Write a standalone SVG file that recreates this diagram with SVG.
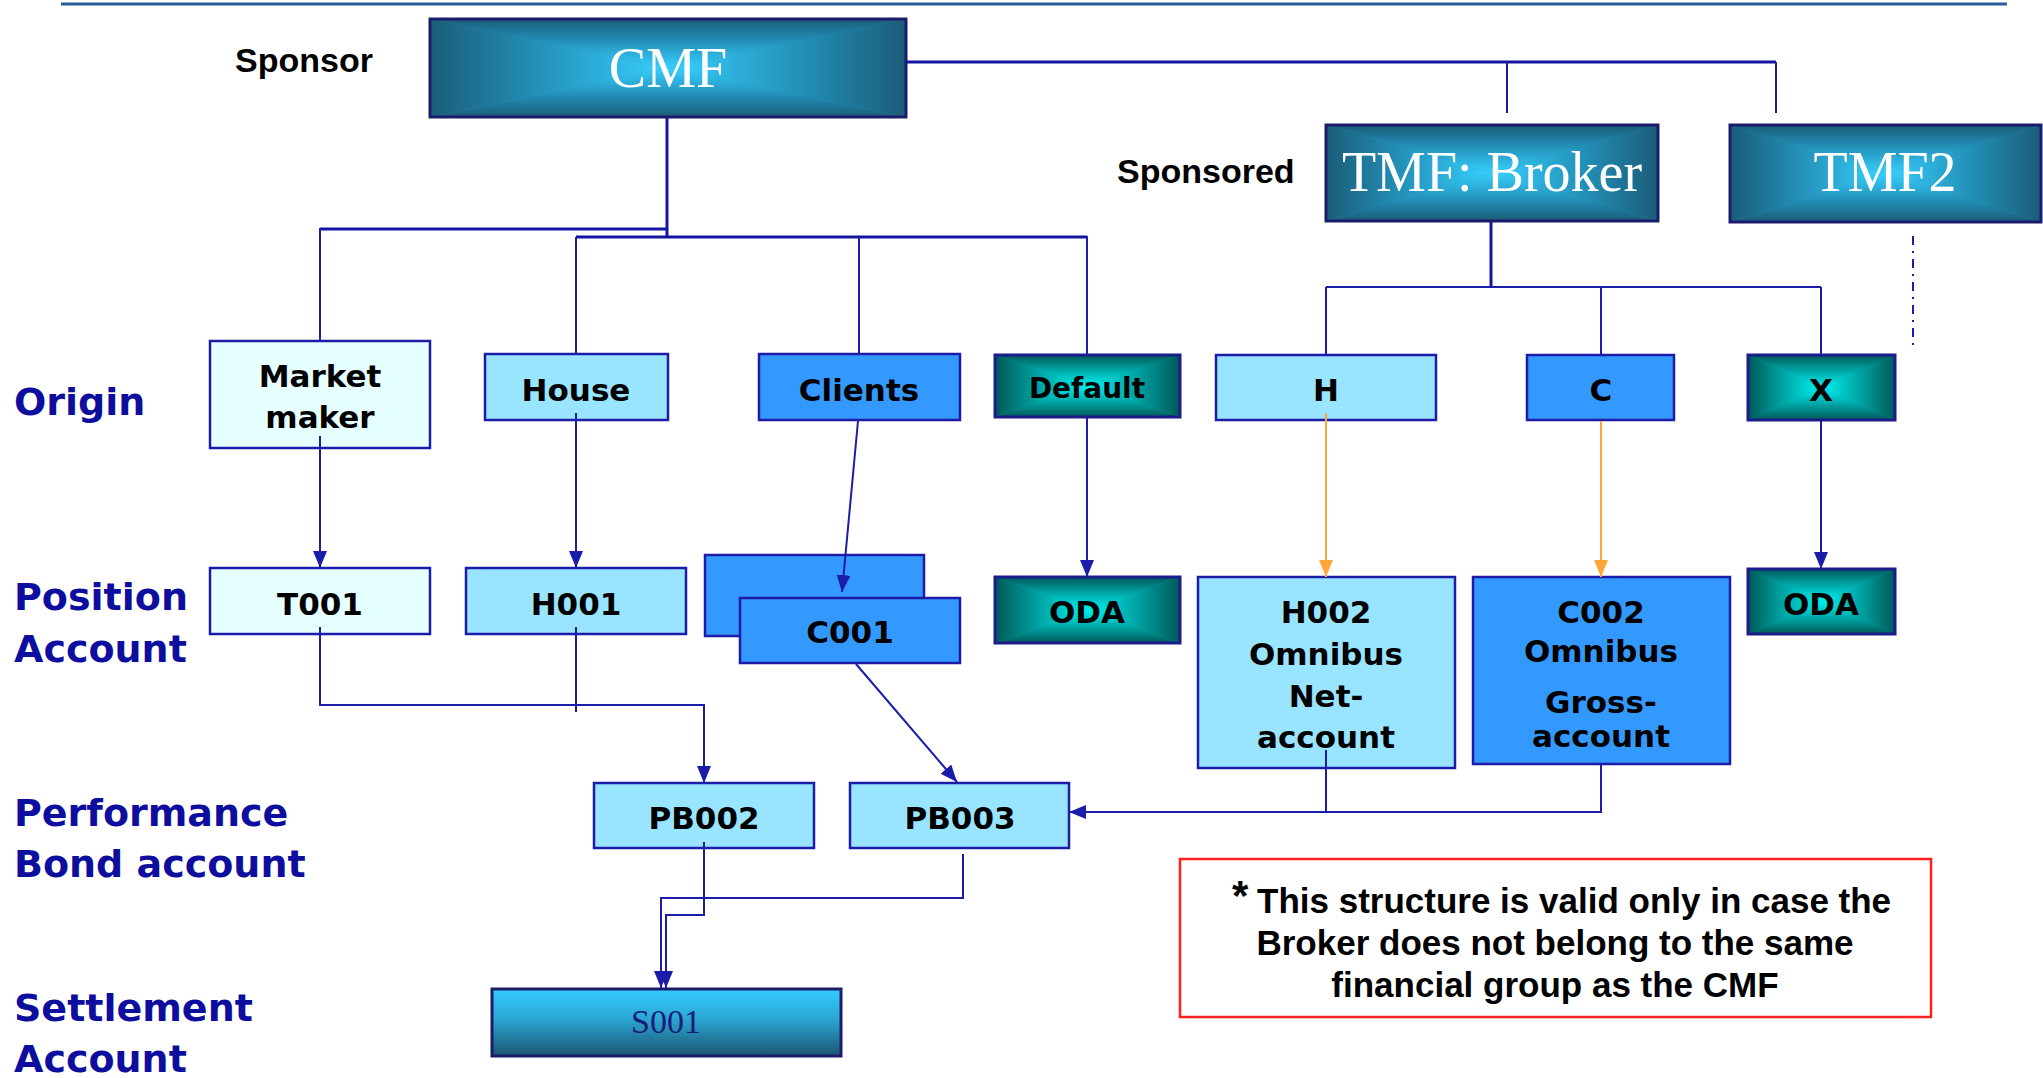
<svg xmlns="http://www.w3.org/2000/svg" width="2043" height="1078" viewBox="0 0 2043 1078">
<defs>
<style>
.lbl{font-family:"DejaVu Sans",Verdana,sans-serif;font-weight:bold;font-size:38px;fill:#0d0d9e}
.bt{font-family:"DejaVu Sans",Verdana,sans-serif;font-weight:bold;font-size:31px;fill:#000;text-anchor:middle}
.hd{font-family:"Liberation Sans",Arial,sans-serif;font-weight:bold;font-size:34px;fill:#000}
.srf{font-family:"Liberation Serif","Times New Roman",serif;font-size:56px;fill:#fff;text-anchor:middle}
.note{font-family:"Liberation Sans",Arial,sans-serif;font-weight:bold;font-size:35px;fill:#000}
.bx{stroke:#1c1ca8;stroke-width:2.5}
.dk{fill:none;stroke:#1c1c6c;stroke-width:3}
.c1{fill:#e6ffff}.c2{fill:#99e5ff}.c3{fill:#3399ff}
.cn{fill:none;stroke:#1c1caa;stroke-width:2}
.cw{fill:none;stroke:#1414a0;stroke-width:3}
.or{fill:none;stroke:#ffa63a;stroke-width:2}
</style>
<linearGradient id="bT" x1="0" y1="0" x2="0" y2="1"><stop offset="0" stop-color="#1a5c78"/><stop offset="0.45" stop-color="#2390b8"/><stop offset="1" stop-color="#38d0ff"/></linearGradient>
<linearGradient id="bB" x1="0" y1="1" x2="0" y2="0"><stop offset="0" stop-color="#1a5c78"/><stop offset="0.45" stop-color="#2390b8"/><stop offset="1" stop-color="#38d0ff"/></linearGradient>
<linearGradient id="bL" x1="0" y1="0" x2="1" y2="0"><stop offset="0" stop-color="#1a5c78"/><stop offset="0.45" stop-color="#2390b8"/><stop offset="1" stop-color="#38d0ff"/></linearGradient>
<linearGradient id="bR" x1="1" y1="0" x2="0" y2="0"><stop offset="0" stop-color="#1a5c78"/><stop offset="0.45" stop-color="#2390b8"/><stop offset="1" stop-color="#38d0ff"/></linearGradient>
<linearGradient id="tT" x1="0" y1="0" x2="0" y2="1"><stop offset="0" stop-color="#005858"/><stop offset="0.45" stop-color="#00a0a0"/><stop offset="1" stop-color="#00f2f2"/></linearGradient>
<linearGradient id="tB" x1="0" y1="1" x2="0" y2="0"><stop offset="0" stop-color="#005858"/><stop offset="0.45" stop-color="#00a0a0"/><stop offset="1" stop-color="#00f2f2"/></linearGradient>
<linearGradient id="tL" x1="0" y1="0" x2="1" y2="0"><stop offset="0" stop-color="#005858"/><stop offset="0.45" stop-color="#00a0a0"/><stop offset="1" stop-color="#00f2f2"/></linearGradient>
<linearGradient id="tR" x1="1" y1="0" x2="0" y2="0"><stop offset="0" stop-color="#005858"/><stop offset="0.45" stop-color="#00a0a0"/><stop offset="1" stop-color="#00f2f2"/></linearGradient>
<linearGradient id="sG" x1="0" y1="0" x2="0" y2="1"><stop offset="0" stop-color="#33ccff"/><stop offset="0.45" stop-color="#2aa6d2"/><stop offset="1" stop-color="#1b5570"/></linearGradient>
<linearGradient id="botL" x1="0" y1="0" x2="1" y2="0"><stop offset="0" stop-color="#1d4f7a"/><stop offset="1" stop-color="#0e2a5a"/></linearGradient>
<symbol id="gB" viewBox="0 0 100 100" preserveAspectRatio="none">
<rect width="100" height="100" fill="#2390b8"/>
<polygon points="0,0 100,0 50,50" fill="url(#bT)"/>
<polygon points="0,100 100,100 50,50" fill="url(#bB)"/>
<polygon points="0,0 0,100 50,50" fill="url(#bL)"/>
<polygon points="100,0 100,100 50,50" fill="url(#bR)"/>
</symbol>
<symbol id="gT" viewBox="0 0 100 100" preserveAspectRatio="none">
<rect width="100" height="100" fill="#00a0a0"/>
<polygon points="0,0 100,0 50,50" fill="url(#tT)"/>
<polygon points="0,100 100,100 50,50" fill="url(#tB)"/>
<polygon points="0,0 0,100 50,50" fill="url(#tL)"/>
<polygon points="100,0 100,100 50,50" fill="url(#tR)"/>
</symbol>
<marker id="ab" markerUnits="userSpaceOnUse" markerWidth="18" markerHeight="16" refX="17" refY="7" orient="auto"><path d="M0,0 L17,7 L0,14 Z" fill="#1c1caa"/></marker>
<marker id="ao" markerUnits="userSpaceOnUse" markerWidth="18" markerHeight="16" refX="17" refY="7" orient="auto"><path d="M0,0 L17,7 L0,14 Z" fill="#ffa63a"/></marker>
</defs>
<rect width="2043" height="1078" fill="#fff"/>
<line x1="61" y1="4" x2="2007" y2="4" stroke="#2b5c9a" stroke-width="3"/>
<line x1="727" y1="1076" x2="2043" y2="1076" stroke="url(#botL)" stroke-width="4"/>

<g id="labels">
<text class="hd" x="235" y="72">Sponsor</text>
<text class="hd" x="1117" y="183">Sponsored</text>
<text class="lbl" x="14" y="415">Origin</text>
<text class="lbl" x="14" y="610">Position</text>
<text class="lbl" x="14" y="662">Account</text>
<text class="lbl" x="14" y="826">Performance</text>
<text class="lbl" x="14" y="877">Bond account</text>
<text class="lbl" x="14" y="1021">Settlement</text>
<text class="lbl" x="14" y="1072">Account</text>
</g>

<g id="cmf">
<use href="#gB" x="430" y="19" width="476" height="98"/>
<rect class="dk" x="430" y="19" width="476" height="98"/>
<text class="srf" x="668" y="87">CMF</text>
</g>
<g id="tmf-broker">
<use href="#gB" x="1326" y="125" width="332" height="96"/>
<rect class="dk" x="1326" y="125" width="332" height="96"/>
<text class="srf" x="1492" y="191">TMF: Broker</text>
</g>
<g id="tmf2">
<use href="#gB" x="1730" y="125" width="311" height="97"/>
<rect class="dk" x="1730" y="125" width="311" height="97"/>
<text class="srf" x="1885" y="191">TMF2</text>
</g>

<g id="market-maker">
<rect class="bx c1" x="210" y="341" width="220" height="107"/>
<text class="bt" x="320" y="387">Market</text>
<text class="bt" x="320" y="428">maker</text>
</g>
<g id="house">
<rect class="bx c2" x="485" y="354" width="183" height="66"/>
<text class="bt" x="576" y="401">House</text>
</g>
<g id="clients">
<rect class="bx c3" x="759" y="354" width="201" height="66"/>
<text class="bt" x="859" y="401">Clients</text>
</g>
<g id="default">
<use href="#gT" x="995" y="355" width="185" height="62"/>
<rect class="dk" x="995" y="355" width="185" height="62" style="stroke:#1c1c8c"/>
<text class="bt" x="1087" y="398" style="font-size:28px">Default</text>
</g>
<g id="h">
<rect class="bx c2" x="1216" y="355" width="220" height="65"/>
<text class="bt" x="1326" y="401">H</text>
</g>
<g id="c">
<rect class="bx c3" x="1527" y="355" width="147" height="65"/>
<text class="bt" x="1601" y="401">C</text>
</g>
<g id="x">
<use href="#gT" x="1748" y="355" width="147" height="65"/>
<rect class="dk" x="1748" y="355" width="147" height="65" style="stroke:#1c1c8c"/>
<text class="bt" x="1821" y="401">X</text>
</g>

<g id="t001">
<rect class="bx c1" x="210" y="568" width="220" height="66"/>
<text class="bt" x="320" y="615">T001</text>
</g>
<g id="h001">
<rect class="bx c2" x="466" y="568" width="220" height="66"/>
<text class="bt" x="576" y="615">H001</text>
</g>
<g id="c001">
<rect class="bx c3" x="705" y="555" width="219" height="81"/>
<rect class="bx c3" x="740" y="598" width="220" height="65"/>
<text class="bt" x="850" y="643">C001</text>
</g>
<g id="oda1">
<use href="#gT" x="995" y="577" width="185" height="66"/>
<rect class="dk" x="995" y="577" width="185" height="66" style="stroke:#1c1c8c"/>
<text class="bt" x="1087" y="623">ODA</text>
</g>
<g id="h002">
<rect class="bx c2" x="1198" y="577" width="257" height="191"/>
<text class="bt" x="1326" y="623">H002</text>
<text class="bt" x="1326" y="665">Omnibus</text>
<text class="bt" x="1326" y="707">Net-</text>
<text class="bt" x="1326" y="748">account</text>
</g>
<g id="c002">
<rect class="bx c3" x="1473" y="577" width="257" height="187"/>
<text class="bt" x="1601" y="623">C002</text>
<text class="bt" x="1601" y="662">Omnibus</text>
<text class="bt" x="1601" y="713">Gross-</text>
<text class="bt" x="1601" y="747">account</text>
</g>
<g id="oda2">
<use href="#gT" x="1748" y="569" width="147" height="65"/>
<rect class="dk" x="1748" y="569" width="147" height="65" style="stroke:#1c1c8c"/>
<text class="bt" x="1821" y="615">ODA</text>
</g>

<g id="pb002">
<rect class="bx c2" x="594" y="783" width="220" height="65"/>
<text class="bt" x="704" y="829">PB002</text>
</g>
<g id="pb003">
<rect class="bx c2" x="850" y="783" width="219" height="65"/>
<text class="bt" x="960" y="829">PB003</text>
</g>
<g id="s001">
<rect x="492" y="989" width="349" height="67" fill="url(#sG)" stroke="#1c1c6c" stroke-width="3"/>
<text class="srf" x="666" y="1033" style="font-size:34px;fill:#1a1a7a">S001</text>
</g>

<g id="connectors">
<polyline class="cw" points="906,62 1776,62"/>
<line class="cn" x1="1507" y1="62" x2="1507" y2="113"/>
<line class="cn" x1="1776" y1="62" x2="1776" y2="113"/>
<line class="cw" x1="667" y1="118" x2="667" y2="237"/>
<line class="cw" x1="320" y1="229" x2="667" y2="229"/>
<line class="cw" x1="576" y1="237" x2="1087" y2="237" stroke-width="2.5"/>
<line class="cn" x1="320" y1="228" x2="320" y2="340"/>
<line class="cn" x1="576" y1="237" x2="576" y2="353"/>
<line class="cn" x1="859" y1="237" x2="859" y2="353"/>
<line class="cn" x1="1087" y1="236" x2="1087" y2="354"/>
<line class="cw" x1="1491" y1="222" x2="1491" y2="287"/>
<line class="cn" x1="1326" y1="287" x2="1821" y2="287" stroke-width="2.5"/>
<line class="cn" x1="1326" y1="287" x2="1326" y2="354"/>
<line class="cn" x1="1601" y1="287" x2="1601" y2="354"/>
<line class="cn" x1="1821" y1="287" x2="1821" y2="354"/>
<line class="cn" x1="1913" y1="236" x2="1913" y2="348" stroke-dasharray="9,6,2,6"/>
<line class="cn" x1="320" y1="436" x2="320" y2="568" marker-end="url(#ab)"/>
<line class="cn" x1="576" y1="413" x2="576" y2="568" marker-end="url(#ab)"/>
<line class="cn" x1="858" y1="421" x2="842" y2="592" marker-end="url(#ab)"/>
<line class="cn" x1="1087" y1="418" x2="1087" y2="577" marker-end="url(#ab)"/>
<line class="or" x1="1326" y1="413" x2="1326" y2="577" marker-end="url(#ao)"/>
<line class="or" x1="1601" y1="421" x2="1601" y2="577" marker-end="url(#ao)"/>
<line class="cn" x1="1821" y1="421" x2="1821" y2="569" marker-end="url(#ab)"/>
<polyline class="cn" points="320,627 320,705 704,705 704,783" marker-end="url(#ab)"/>
<line class="cn" x1="576" y1="627" x2="576" y2="712"/>
<line class="cn" x1="856" y1="664" x2="957" y2="782" marker-end="url(#ab)"/>
<polyline class="cn" points="1601,765 1601,812 1069,812" marker-end="url(#ab)"/>
<line class="cn" x1="1326" y1="750" x2="1326" y2="812"/>
<polyline class="cn" points="704,842 704,915 666,915 666,988" marker-end="url(#ab)"/>
<polyline class="cn" points="963,854 963,898 661,898 661,988" marker-end="url(#ab)"/>
</g>

<g id="note">
<rect x="1180" y="859" width="751" height="158" fill="#fff" stroke="#ff2020" stroke-width="2.5"/>
<text class="note" x="1232" y="910" style="font-size:42px">*</text>
<text class="note" x="1257" y="913">This structure is valid only in case the</text>
<text class="note" x="1555" y="955" text-anchor="middle">Broker does not belong to the same</text>
<text class="note" x="1555" y="997" text-anchor="middle">financial group as the CMF</text>
</g>
</svg>
